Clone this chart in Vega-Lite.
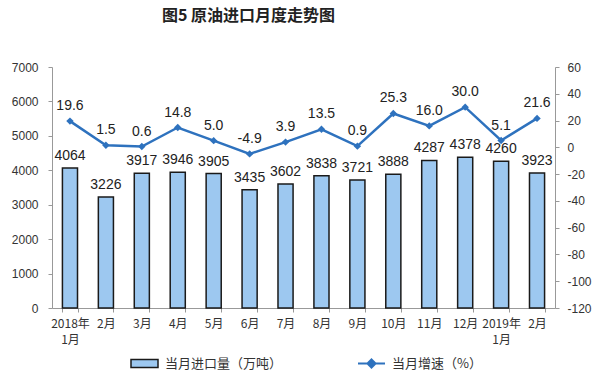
{
  "$schema": "https://vega.github.io/schema/vega-lite/v6.json",
  "autosize": "none",
  "width": 503,
  "height": 241,
  "padding": {"left": 52, "top": 67, "right": 45, "bottom": 73},
  "background": "white",
  "title": {"text": "图5  原油进口月度走势图", "fontSize": 16, "fontWeight": "bold", "color": "#222", "font": "Noto Sans CJK SC", "anchor": "middle", "dx": -55, "offset": 37},
  "config": {"view": {"stroke": null}, "font": "Liberation Sans"},
  "data": {"values": [
    {"m": "2018年\n1月", "v": 4064, "g": 19.6},
    {"m": "2月", "v": 3226, "g": 1.5},
    {"m": "3月", "v": 3917, "g": 0.6},
    {"m": "4月", "v": 3946, "g": 14.8},
    {"m": "5月", "v": 3905, "g": 5.0},
    {"m": "6月", "v": 3435, "g": -4.9},
    {"m": "7月", "v": 3602, "g": 3.9},
    {"m": "8月", "v": 3838, "g": 13.5},
    {"m": "9月", "v": 3721, "g": 0.9},
    {"m": "10月", "v": 3888, "g": 25.3},
    {"m": "11月", "v": 4287, "g": 16.0},
    {"m": "12月", "v": 4378, "g": 30.0},
    {"m": "2019年\n1月", "v": 4260, "g": 5.1},
    {"m": "2月 ", "v": 3923, "g": 21.6}
  ]},
  "transform": [
    {"calculate": "replace(format(datum.g, '.1f'), '\u2212', '-')", "as": "gl"}
  ],
  "encoding": {
    "x": {"field": "m", "type": "nominal", "sort": null,
      "scale": {"paddingInner": 0.58, "paddingOuter": 0.29},
      "axis": {"title": null, "labelAngle": 0, "labelExpr": "split(datum.label, '\\n')", "labelFontSize": 12, "labelColor": "#333", "labelPadding": 6, "labelLineHeight": 16, "domainColor": "#999", "tickColor": "#999", "tickSize": 4, "tickBand": "extent", "labelFont": "Noto Sans CJK SC"}}
  },
  "layer": [
    {
      "encoding": {
        "y": {"field": "v", "type": "quantitative", "scale": {"domain": [0, 7000], "nice": false},
          "axis": {"title": null, "values": [0,1000,2000,3000,4000,5000,6000,7000], "format": "d", "grid": false, "labelFontSize": 12, "labelColor": "#333", "domainColor": "#999", "tickColor": "#999", "tickSize": 4, "labelPadding": 10}}
      },
      "layer": [
        {
          "mark": {"type": "bar", "stroke": "#1a1a1a", "strokeWidth": 1.5},
          "encoding": {
            "fill": {"datum": "当月进口量（万吨）", "type": "nominal", "scale": {"range": ["#9DC8F0"]},
              "legend": {"orient": "none", "legendX": 78, "legendY": 282, "title": null, "symbolType": "M-1,-0.3H1V0.3H-1Z", "symbolSize": 729, "symbolStrokeColor": "#1a1a1a", "symbolStrokeWidth": 1.5, "labelFontSize": 13, "labelColor": "#333", "labelFont": "Noto Sans CJK SC", "labelOffset": 6}}
          }
        },
        {
          "mark": {"type": "text", "baseline": "bottom", "dy": -5, "fontSize": 14, "color": "#222"},
          "encoding": {
            "text": {"field": "v", "type": "quantitative", "format": "d"}
          }
        }
      ]
    },
    {
      "encoding": {
        "y": {"field": "g", "type": "quantitative", "scale": {"domain": [-120, 60], "nice": false},
          "axis": {"orient": "right", "title": null, "values": [-120,-100,-80,-60,-40,-20,0,20,40,60], "format": "d", "labelExpr": "replace(datum.label, '\u2212', '-')", "grid": false, "labelFontSize": 12, "labelColor": "#333", "domainColor": "#999", "tickColor": "#999", "tickSize": 4, "labelPadding": 8}}
      },
      "layer": [
        {
          "mark": {"type": "line", "strokeWidth": 2.5},
          "encoding": {
            "stroke": {"datum": "当月增速（%）", "type": "nominal", "scale": {"range": ["#2E72BE"]},
              "legend": {"orient": "none", "legendX": 305, "legendY": 282, "title": null, "symbolType": "M-1,0H1M0,-0.3L0.3,0L0,0.3L-0.3,0Z", "symbolSize": 729, "symbolFillColor": "#2E72BE", "symbolStrokeWidth": 2, "labelFontSize": 13, "labelColor": "#333", "labelFont": "Noto Sans CJK SC", "labelOffset": 6}}
          }
        },
        {
          "mark": {"type": "point", "shape": "diamond", "filled": true, "size": 55, "color": "#2E72BE", "opacity": 1}
        },
        {
          "mark": {"type": "text", "baseline": "bottom", "dy": -8, "fontSize": 14, "color": "#222"},
          "encoding": {
            "text": {"field": "gl", "type": "nominal"}
          }
        }
      ]
    }
  ],
  "resolve": {"scale": {"y": "independent"}}
}
